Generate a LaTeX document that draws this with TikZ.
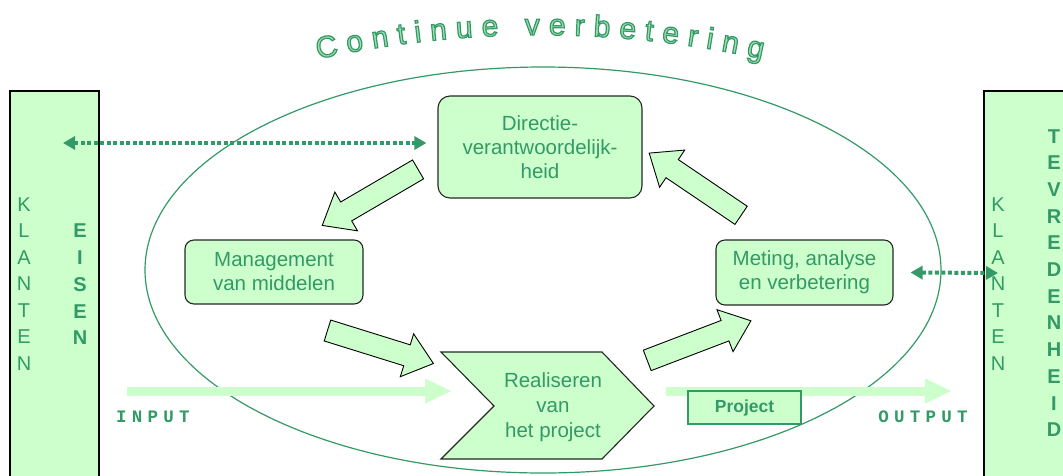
\documentclass[tikz,border=0pt]{standalone}
\usepackage{fontspec}
\setmainfont{Liberation Sans}
\newfontfamily\monob{Liberation Mono}[LetterSpace=30]
\usetikzlibrary{arrows.meta,shapes.arrows,decorations.text,calc}
\definecolor{tgreen}{HTML}{339966}
\definecolor{lgreen}{HTML}{CCFFCC}
\newcommand\outl{\special{pdf:literal direct 2 Tr 1.2 w 0.62 0.88 0.68 rg}}
\tikzset{
  rbox/.style={draw=black!85, line width=1.1pt, fill=lgreen, rounded corners=9pt, text=tgreen, align=center, font=\fontsize{20.5}{24}\selectfont, inner sep=0pt},
  blockarr/.style={single arrow, draw=black, line width=0.9pt, fill=lgreen, minimum height=111pt, single arrow head extend=11.5pt, single arrow tip angle=78, inner xsep=0pt, inner ysep=10.5pt},
  dotarr/.style={tgreen, line width=4pt, dash pattern=on 4pt off 2.5pt, {Triangle[length=12pt,width=13pt]}-{Triangle[length=12pt,width=13pt]}},
  bigarr/.style={lgreen, line width=9pt, -{Triangle[length=27pt,width=23pt]}},
  panel/.style={draw=black, line width=1.5pt, fill=lgreen, inner sep=0pt},
  stack/.style={text=tgreen, align=center, font=\fontsize{20}{26.5}\selectfont, inner sep=0pt},
  stackb/.style={text=tgreen, align=center, font=\fontsize{20}{26.7}\selectfont\bfseries, inner sep=0pt},
  iolabel/.style={text=tgreen, font=\monob\bfseries\fontsize{17.5}{20}\selectfont, inner sep=0pt},
}
\begin{document}
\begin{tikzpicture}[x=1pt,y=-1pt]
\useasboundingbox (0,0) rectangle (1063,475);
% ellipse
\draw[tgreen, line width=1.2pt] (543,270) ellipse [x radius=398, y radius=203];
% panels
\node[panel, minimum width=89pt, minimum height=400pt, anchor=north west] (pl) at (9,90) {};
\node[panel, minimum width=100pt, minimum height=400pt, anchor=north west] (pr) at (983,90) {};
\node[stack] (klL) at (24,284) {K\\L\\A\\N\\T\\E\\N};
\node[stackb] (eisen) at (80,284.5) {E\\I\\S\\E\\N};
\node[stack] (klR) at (998,284) {K\\L\\A\\N\\T\\E\\N};
\node[stackb] (tevr) at (1054,283) {T\\E\\V\\R\\E\\D\\E\\N\\H\\E\\I\\D};
% input / output arrows
\coordinate (inS) at (127,391);
\coordinate (inE) at (452,391);
\coordinate (outS) at (666,391);
\coordinate (outE) at (952,391);
\draw[bigarr] (inS) -- (inE);
\draw[bigarr] (outS) -- (outE);
\node[iolabel] (input) at (153,417) {INPUT};
\node[iolabel] (output) at (923,417) {OUTPUT};
% boxes
\node[rbox, rounded corners=12pt, minimum width=204pt, minimum height=102pt] (dir) at (540,147) {Directie-\\verantwoordelijk-\\heid};
\node[rbox, minimum width=178pt, minimum height=64pt] (man) at (274,272) {Management\\van middelen};
\node[rbox, minimum width=177pt, minimum height=65pt] (met) at (804.5,272.5) {Meting, analyse\\en verbetering};
% chevron
\draw[line width=1.1pt, draw=black!85, fill=lgreen, line join=miter] (441,352) -- (602,352) -- (654,406) -- (602,459) -- (441,459) -- (494,406) -- cycle;
\node[text=tgreen, align=center, font=\fontsize{20.5}{25}\selectfont, inner sep=0pt] (real) at (553,407) {Realiseren\\van\\het project};
% project box
\node[draw=tgreen, line width=1.3pt, fill=lgreen, minimum width=113pt, minimum height=33pt, text=tgreen, font=\bfseries\fontsize{17.5}{20}\selectfont, inner sep=0pt] (proj) at (744.5,407.5) {Project};
% block arrows
\node[blockarr, rotate=210.3] (a1) at (376,194) {};
\node[blockarr, rotate=-17.3] (a2) at (374,345) {};
\node[blockarr, rotate=20.9] (a3) at (692.75,343) {};
\node[blockarr, rotate=145.9] (a4) at (700.75,188) {};
% dotted arrows
\coordinate (kl) at (63,143);
\coordinate (kr) at (998,273);
\draw[dotarr] (kl) -- ($(dir.west)+(-11,-4)$);
\draw[dotarr] ($(met.east)+(17,0)$) -- (kr);
% arc title
\begin{scope}
\path[decorate, decoration={text along path, text={|\fontsize{30}{34}\selectfont\color{tgreen}\outl|Continue verbetering}, text align={fit to path}}] (318,59) arc[start angle=-102.34, end angle=-77.66, radius=1039];
\end{scope}
\end{tikzpicture}
\end{document}
